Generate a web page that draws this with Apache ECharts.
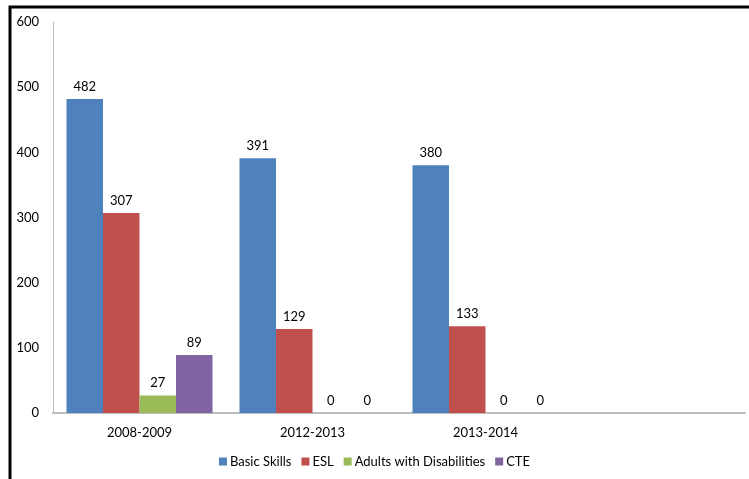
<!DOCTYPE html>
<html>
<head>
<meta charset="utf-8">
<script src="https://cdn.jsdelivr.net/npm/echarts@6/dist/echarts.min.js"></script>
<style>
  html, body { margin: 0; padding: 0; background: #fff; }
  #chart { width: 749px; height: 479px; }
</style>
</head>
<body>
<div id="chart"></div>
<script>
// Program years (a trailing blank slot keeps the plot width for a fourth year)
const categories = ['2008-2009', '2012-2013', '2013-2014', ''];
const basicSkills = [482, 391, 380, null];
const esl = [307, 129, 133, null];
const adultsWithDisabilities = [27, 0, 0, null];
const cte = [89, 0, 0, null];
const yTicks = { min: 0, max: 600, interval: 100 };

const font = 'Lato, "Open Sans", sans-serif';

function barSeries(name, data, color) {
  return {
    name: name,
    type: 'bar',
    data: data,
    barWidth: 36.5,
    barGap: '0%',
    itemStyle: { color: color },
    label: {
      show: true,
      position: 'top',
      distance: 6,
      color: '#000',
      fontFamily: font,
      fontSize: 13
    }
  };
}

const chart = echarts.init(document.getElementById('chart'), null, { renderer: 'canvas' });
chart.setOption({
  animation: false,
  backgroundColor: '#fff',
  textStyle: { fontFamily: font },
  grid: { left: 53, right: 4, top: 22, bottom: 66, containLabel: false },
  xAxis: {
    type: 'category',
    data: categories,
    axisLine: { lineStyle: { color: '#bdbdbd', width: 2 } },
    axisTick: { show: false },
    axisLabel: { color: '#000', fontSize: 13, fontFamily: font, margin: 13 }
  },
  yAxis: {
    type: 'value',
    min: yTicks.min,
    max: yTicks.max,
    interval: yTicks.interval,
    axisLine: { show: true, lineStyle: { color: '#bdbdbd', width: 1 } },
    axisTick: { show: false },
    splitLine: { show: false },
    axisLabel: { color: '#000', fontSize: 13, fontFamily: font, margin: 14 }
  },
  legend: {
    bottom: 6,
    left: 'center',
    itemWidth: 8,
    itemHeight: 8,
    itemGap: 10,
    icon: 'rect',
    textStyle: { color: '#000', fontSize: 13, fontFamily: font, padding: [0, 0, 0, -2] }
  },
  series: [
    barSeries('Basic Skills', basicSkills, '#4f81bd'),
    barSeries('ESL', esl, '#c0504d'),
    barSeries('Adults with Disabilities', adultsWithDisabilities, '#9bbb59'),
    barSeries('CTE', cte, '#8064a2')
  ],
  graphic: [
    {
      type: 'polyline',
      shape: { points: [[10, 479], [10, 7], [749, 7]] },
      style: { stroke: '#000', lineWidth: 3, fill: null },
      silent: true
    }
  ]
});
</script>
</body>
</html>
